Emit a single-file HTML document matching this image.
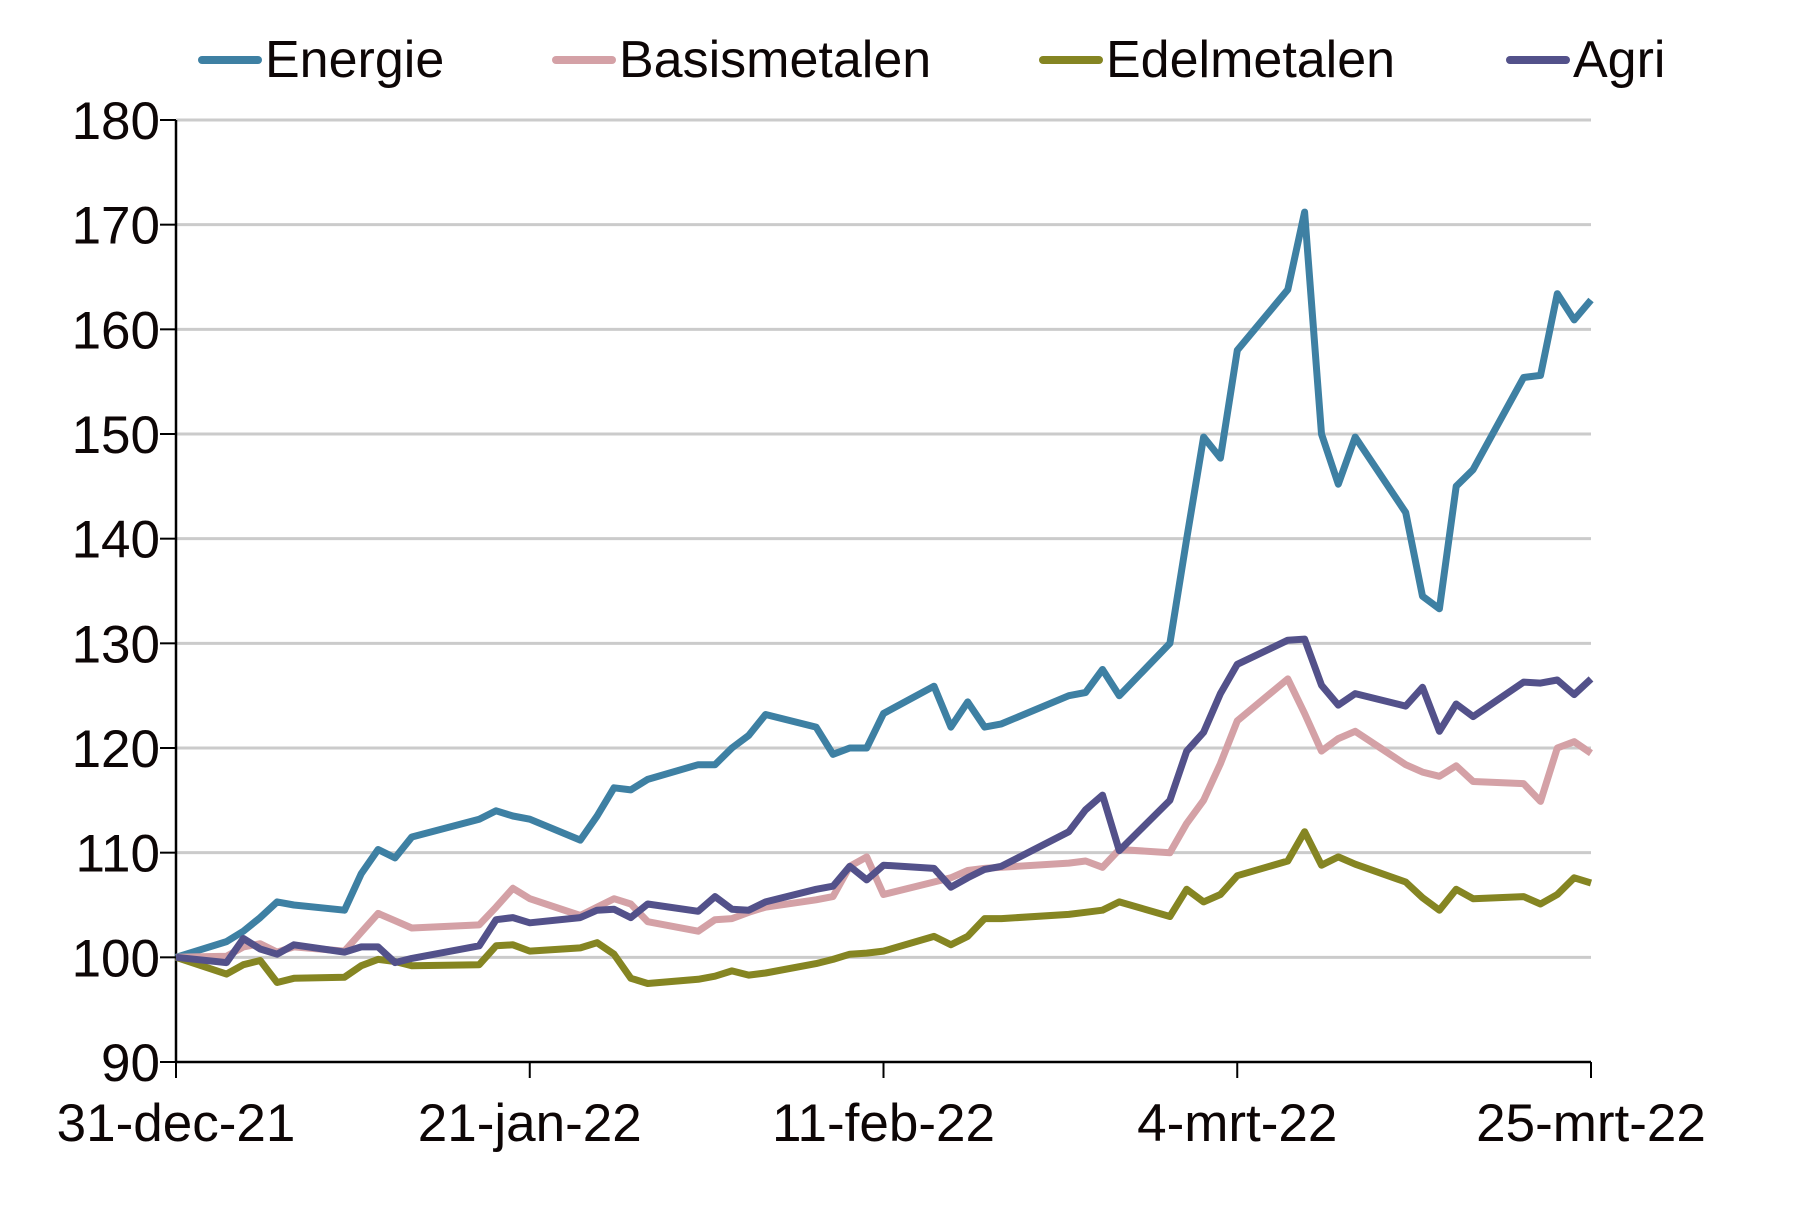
<!DOCTYPE html>
<html><head><meta charset="utf-8"><style>
html,body{margin:0;padding:0;background:#fff;}
svg{display:block;font-family:"Liberation Sans",Arial,sans-serif;}
</style></head><body>
<svg id="chart" width="1806" height="1209" viewBox="0 0 1806 1209" xmlns="http://www.w3.org/2000/svg">
<g id="grid"></g>
<g id="yaxis"></g>
<g id="xaxis"></g>
<g id="series"></g>
<g id="legend"></g>
</svg>
<script>
const days = [0,3,4,5,6,7,10,11,12,13,14,18,19,20,21,24,25,26,27,28,31,32,33,34,35,38,39,40,41,42,45,46,47,48,49,53,54,55,56,59,60,61,62,63,66,67,68,69,70,73,74,75,76,77,80,81,82,83,84];
const energie = [100,101.5,102.5,103.8,105.3,105,104.5,108,110.3,109.5,111.5,113.2,114,113.5,113.2,111.2,113.5,116.2,116,117,118.4,118.4,120,121.2,123.2,122,119.4,120,120,123.3,125.9,122,124.4,122,122.3,125,125.3,127.5,125,130,140,149.7,147.7,158,163.8,171.2,150,145.2,149.7,142.5,134.5,133.3,145,146.6,155.4,155.6,163.4,160.9,162.8];
const basismetalen = [100,100.1,101,101.3,100.5,101,100.6,102.4,104.2,103.5,102.8,103.1,104.8,106.6,105.6,104,104.8,105.6,105.1,103.4,102.5,103.6,103.7,104.3,104.8,105.5,105.8,108.7,109.6,106,107.2,107.6,108.3,108.5,108.6,109,109.2,108.6,110.3,110,112.8,115,118.5,122.6,126.6,123.3,119.7,120.9,121.6,118.4,117.7,117.3,118.3,116.8,116.6,114.9,120,120.6,119.5];
const edelmetalen = [100,98.4,99.3,99.7,97.6,98,98.1,99.2,99.8,99.6,99.2,99.3,101.1,101.2,100.6,100.9,101.4,100.3,98,97.5,97.9,98.2,98.7,98.3,98.5,99.4,99.8,100.3,100.4,100.6,102,101.2,102,103.7,103.7,104.1,104.3,104.5,105.3,103.9,106.5,105.3,106,107.8,109.2,112,108.8,109.6,108.9,107.2,105.7,104.5,106.5,105.6,105.8,105.1,106,107.6,107.1];
const agri = [100,99.5,101.8,100.8,100.3,101.2,100.5,101,101,99.5,99.9,101.1,103.6,103.8,103.3,103.8,104.5,104.6,103.8,105.1,104.4,105.8,104.6,104.5,105.3,106.5,106.8,108.7,107.4,108.8,108.5,106.7,107.6,108.4,108.7,112,114.1,115.5,110.2,115,119.7,121.5,125.2,128,130.3,130.4,126,124.1,125.2,124,125.8,121.6,124.2,123,126.3,126.2,126.5,125.1,126.6];
const yTicks = [90,100,110,120,130,140,150,160,170,180];
const xTickDays = [0,21,42,63,84];
const xTickLabels = ["31-dec-21","21-jan-22","11-feb-22","4-mrt-22","25-mrt-22"];
const seriesNames = ["Energie","Basismetalen","Edelmetalen","Agri"];

const NS="http://www.w3.org/2000/svg";
const X0=176,X1=1591,Y0=1062,Y1=120;
function xs(d){return X0+(d-0)/(84-0)*(X1-X0);}
function ys(v){return Y0-(v-90)/(180-90)*(Y0-Y1);}
function mk(tag,attrs,parent){const e=document.createElementNS(NS,tag);for(const k in attrs)e.setAttribute(k,attrs[k]);parent.appendChild(e);return e;}
const grid=document.getElementById('grid'),ya=document.getElementById('yaxis'),xa=document.getElementById('xaxis'),ser=document.getElementById('series'),leg=document.getElementById('legend');
yTicks.forEach(v=>{
  if(v>90){const g=mk('line',{x1:X0,x2:X1,y1:ys(v),y2:ys(v),stroke:'#cbcbcb','stroke-width':3},grid);
  
  }
  const t=mk('line',{x1:X0-16,x2:X0,y1:ys(v),y2:ys(v),stroke:'#000','stroke-width':2},ya);
  
  
  const l=mk('text',{x:160,y:ys(v)+19,'text-anchor':'end','font-size':53,fill:'#0d0606'},ya);
  l.textContent=v;
  
  
});
const yl=mk('line',{x1:X0,x2:X0,y1:Y1,y2:Y0,stroke:'#000','stroke-width':2.5},ya);


const xl=mk('line',{x1:X0,x2:X1,y1:Y0,y2:Y0,stroke:'#000','stroke-width':2.5},xa);


xTickDays.forEach((d,i)=>{
  const t=mk('line',{x1:xs(d),x2:xs(d),y1:Y0,y2:Y0+16,stroke:'#000','stroke-width':2},xa);
  
  
  const l=mk('text',{x:xs(d),y:1141,'text-anchor':'middle','font-size':53,fill:'#0d0606'},xa);
  l.textContent=xTickLabels[i];
  
  
});
const allSeries=[energie,basismetalen,edelmetalen,agri];
const colors=['#3e80a3','#d4a1a6','#858522','#53518a'];
const slugs=['energie','basismetalen','edelmetalen','agri'];
allSeries.forEach((s,i)=>{
  const pts=s.map((v,j)=>xs(days[j]).toFixed(1)+','+ys(v).toFixed(1)).join(' ');
  const p=mk('polyline',{points:pts,fill:'none',stroke:colors[i],'stroke-width':7,'stroke-linejoin':'round','stroke-linecap':'butt'},ser);
  
  
});
const legX=[202,556,1043,1510];
seriesNames.forEach((n,i)=>{
  const g=mk('g',{},leg);
  
  
  mk('line',{x1:legX[i],x2:legX[i]+56,y1:60,y2:60,stroke:colors[i],'stroke-width':8,'stroke-linecap':'round'},g);
  const t=mk('text',{x:legX[i]+63,y:77,'font-size':52,fill:'#0d0606'},g);
  t.textContent=n;
});
</script>
</body></html>
